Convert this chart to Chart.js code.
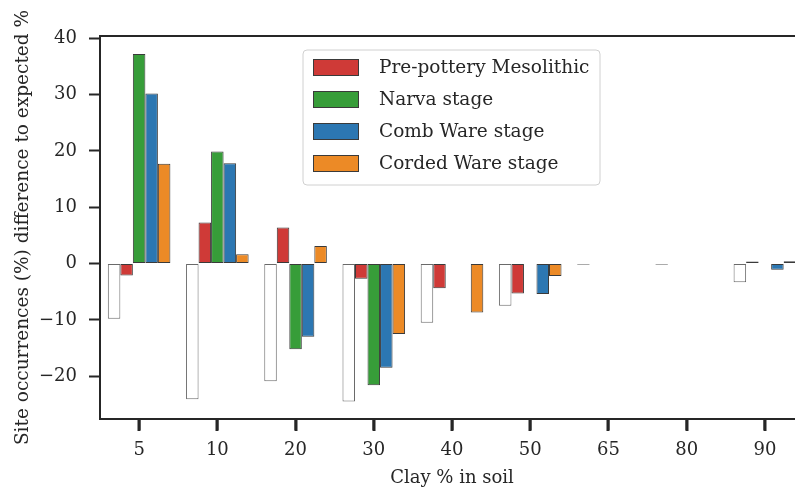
<!DOCTYPE html>
<html>
<head>
<meta charset="utf-8">
<script src="https://cdn.jsdelivr.net/npm/chart.js@4.4.1/dist/chart.umd.min.js"></script>
<style>
  html, body { margin:0; padding:0; background:#fff; overflow:hidden; }
  #wrap { width:806px; height:489px; }
</style>
</head>
<body>
<div id="wrap"><canvas id="c"></canvas></div>
<script>
// clay % categories
const clayLabels = ['5','10','20','30','40','50','65','80','90'];
const yTicks = [-20,-10,0,10,20,30,40];

// unlabelled outline bars (white)
const baseline = [-9.8, -24.1, -20.9, -24.5, -10.5, -7.5, -0.2, -0.2, -3.3];
const mesolithic = [-2.1, 7.3, 6.4, -2.7, -4.4, -5.3, 0, 0, 0.35];
const narva = [37.2, 19.9, -15.2, -21.6, 0, 0, 0, 0, 0];
const combWare = [30.2, 17.8, -13.0, -18.5, 0, -5.4, 0, 0, -1.1];
const cordedWare = [17.7, 1.65, 3.1, -12.5, -8.7, -2.2, 0, 0, 0.4];

const FONT = '"DejaVu Serif", serif';
const INK = '#262626';

function ds(label, data, fill, edge){
  return {label, data, backgroundColor: fill, borderColor: edge, borderWidth: 1,
    borderSkipped: false, barPercentage: 1, categoryPercentage: 0.8};
}

const legendBox = {
  id: 'legendBox',
  afterDraw(chart){
    const ctx = chart.ctx;
    const items = chart.data.datasets.filter(d => d.label);
    const x = 303, y = 50, w = 297, h = 135;
    ctx.save();
    ctx.beginPath();
    ctx.roundRect(x, y, w, h, 4);
    ctx.fillStyle = 'rgba(255,255,255,0.85)';
    ctx.fill();
    ctx.strokeStyle = '#d0d0d0';
    ctx.lineWidth = 1;
    ctx.stroke();
    ctx.font = '18.5px ' + FONT;
    ctx.textBaseline = 'middle';
    items.forEach((d, i) => {
      const cy = 67 + i * 32;
      ctx.fillStyle = d.backgroundColor;
      ctx.fillRect(313, cy - 8, 46, 17);
      ctx.strokeStyle = d.borderColor;
      ctx.strokeRect(313.5, cy - 7.5, 45, 16);
      ctx.fillStyle = INK;
      ctx.fillText(d.label, 379, cy + 1);
    });
    ctx.restore();
  }
};

// top spine + x tick marks under each category
const frame = {
  id: 'frame',
  afterDraw(chart){
    const {ctx, chartArea} = chart;
    const xs = chart.scales.x;
    ctx.save();
    ctx.strokeStyle = INK;
    ctx.lineWidth = 2;
    ctx.beginPath();
    ctx.moveTo(chartArea.left - 1, chartArea.top);
    ctx.lineTo(chartArea.right, chartArea.top);
    ctx.stroke();
    ctx.fillStyle = INK;
    for (let i = 0; i < clayLabels.length; i++) {
      const px = Math.round(xs.getPixelForValue(i));
      ctx.fillRect(px - 1.5, chartArea.bottom, 3, 12);
    }
    ctx.restore();
  }
};

new Chart(document.getElementById('c'), {
  type: 'bar',
  data: {
    labels: clayLabels,
    datasets: [
      ds('', baseline, '#ffffff', '#6a6a6a'),
      ds('Pre-pottery Mesolithic', mesolithic, '#cf3a37', '#3a3a3a'),
      ds('Narva stage', narva, '#379d39', '#3a3a3a'),
      ds('Comb Ware stage', combWare, '#2c77b2', '#3a3a3a'),
      ds('Corded Ware stage', cordedWare, '#ec8a26', '#3a3a3a')
    ]
  },
  options: {
    responsive: true,
    maintainAspectRatio: false,
    animation: false,
    layout: { padding: { top: 36, right: 2, left: 0, bottom: 0 } },
    plugins: { legend: { display: false }, tooltip: { enabled: false } },
    scales: {
      x: {
        grid: { display: true, offset: false, drawOnChartArea: false, tickLength: 11, tickWidth: 2, tickColor: INK },
        border: { display: true, color: INK, width: 2 },
        ticks: { color: INK, font: { family: FONT, size: 18 }, padding: 10, maxRotation: 0 },
        title: { display: true, text: 'Clay % in soil', color: INK, font: { family: FONT, size: 18 }, padding: { bottom: 0 } },
        afterFit(s){ s.height = 70; }
      },
      y: {
        min: -27.6,
        max: 40.4,
        afterBuildTicks(s){ s.ticks = yTicks.map(v => ({ value: v })); },
        grid: { display: true, drawOnChartArea: false, tickLength: 11, tickWidth: 2, tickColor: INK },
        border: { display: true, color: INK, width: 2 },
        ticks: { color: INK, font: { family: FONT, size: 18 }, padding: 12,
          callback: v => v < 0 ? '\u2212' + Math.abs(v) : String(v) },
        title: { display: true, text: 'Site occurrences (%) difference to expected %', color: INK,
          font: { family: FONT, size: 18.5 }, padding: { top: 12 } },
        afterFit(s){ s.width = 100; }
      }
    }
  },
  plugins: [legendBox, frame]
});
</script>
</body>
</html>
